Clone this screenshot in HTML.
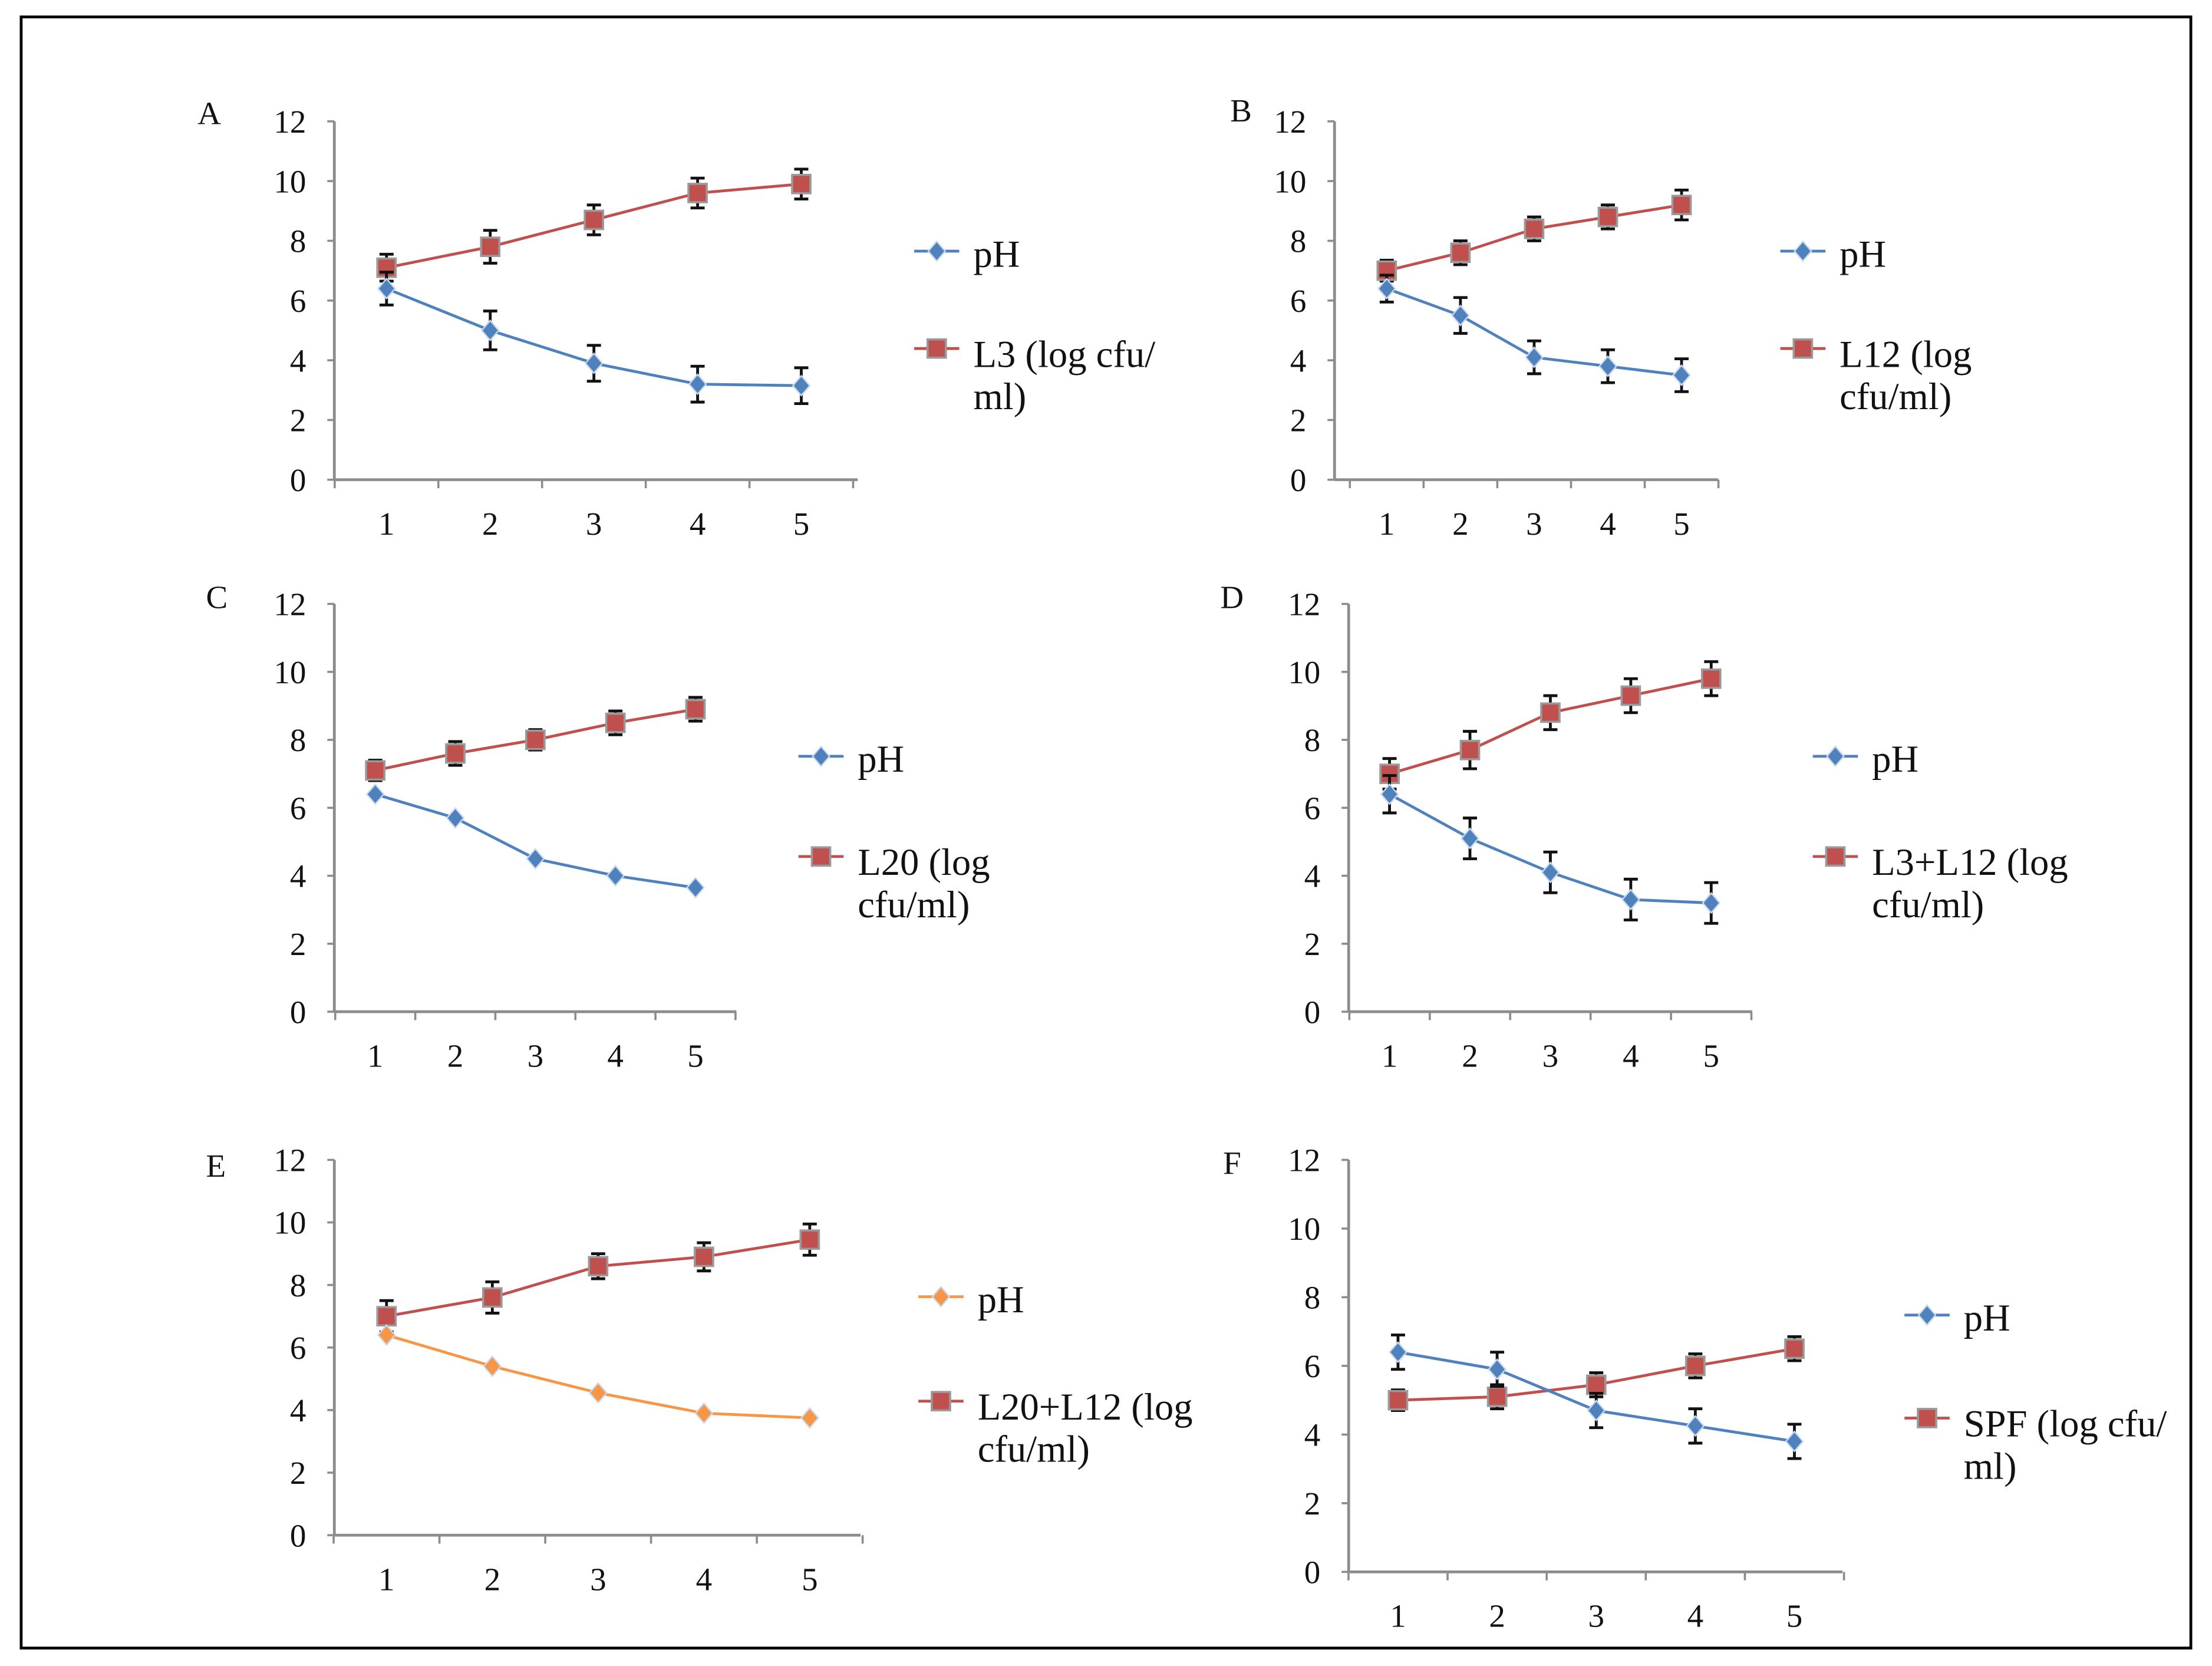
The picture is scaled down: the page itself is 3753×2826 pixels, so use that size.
<!DOCTYPE html>
<html><head><meta charset="utf-8"><style>
html,body{margin:0;padding:0;background:#fff}
svg{display:block}
text{font-family:"Liberation Serif",serif;fill:#111}
</style></head><body>
<svg id="fig" width="3753" height="2826" viewBox="0 0 1568 1180.7" xmlns="http://www.w3.org/2000/svg">
<rect x="15" y="12" width="1538" height="1156" fill="#fff" stroke="#000" stroke-width="2"/>
</svg>
<script>
const categories = [1, 2, 3, 4, 5];
const yTicks = [0, 2, 4, 6, 8, 10, 12];
const aRed = [7.1, 7.8, 8.7, 9.6, 9.9];
const aBlue = [6.4, 5.0, 3.9, 3.2, 3.15];
const aRedErr = [0.45, 0.55, 0.5, 0.5, 0.5];
const aBlueErr = [0.55, 0.65, 0.6, 0.6, 0.6];
const bRed = [7.0, 7.6, 8.4, 8.8, 9.2];
const bBlue = [6.4, 5.5, 4.1, 3.8, 3.5];
const bRedErr = [0.35, 0.4, 0.4, 0.4, 0.5];
const bBlueErr = [0.45, 0.6, 0.55, 0.55, 0.55];
const cRed = [7.1, 7.6, 8.0, 8.5, 8.9];
const cBlue = [6.4, 5.7, 4.5, 4.0, 3.65];
const cRedErr = [0.3, 0.35, 0.3, 0.35, 0.35];
const cBlueErr = [0, 0, 0, 0, 0];
const dRed = [7.0, 7.7, 8.8, 9.3, 9.8];
const dBlue = [6.4, 5.1, 4.1, 3.3, 3.2];
const dRedErr = [0.45, 0.55, 0.5, 0.5, 0.5];
const dBlueErr = [0.55, 0.6, 0.6, 0.6, 0.6];
const eRed = [7.0, 7.6, 8.6, 8.9, 9.45];
const eOrange = [6.4, 5.4, 4.55, 3.9, 3.75];
const eRedErr = [0.5, 0.5, 0.4, 0.45, 0.5];
const eOrangeErr = [0, 0, 0, 0, 0];
const fRed = [5.0, 5.1, 5.45, 6.0, 6.5];
const fBlue = [6.4, 5.9, 4.7, 4.25, 3.8];
const fRedErr = [0.3, 0.35, 0.35, 0.35, 0.35];
const fBlueErr = [0.5, 0.5, 0.5, 0.5, 0.5];

const NS = "http://www.w3.org/2000/svg";
const svg = document.getElementById('fig');
function mk(tag, attrs, parent, txt) {
  const e = document.createElementNS(NS, tag);
  for (const k in attrs) e.setAttribute(k, attrs[k]);
  if (txt !== undefined) e.textContent = txt;
  (parent || svg).appendChild(e);
  return e;
}
const panels = [
  {id:'a', label:'A', lx:140, ly:88, ax:237, yTop:86, y0:340, xEnd:608, c1:274, c5:568,
   s1:aBlue, e1:aBlueErr, s2:aRed, e2:aRedErr, col1:'#4f81bd',
   lgX:648, lg1:178, lg2:247, t1:['pH'], t2:['L3  (log cfu/','ml)']},
  {id:'b', label:'B', lx:872, ly:86, ax:946, yTop:86, y0:340, xEnd:1218, c1:983, c5:1192,
   s1:bBlue, e1:bBlueErr, s2:bRed, e2:bRedErr, col1:'#4f81bd',
   lgX:1262, lg1:178, lg2:247, t1:['pH'], t2:['L12  (log','cfu/ml)']},
  {id:'c', label:'C', lx:146, ly:431, ax:237, yTop:428, y0:717, xEnd:522, c1:266, c5:493,
   s1:cBlue, e1:cBlueErr, s2:cRed, e2:cRedErr, col1:'#4f81bd',
   lgX:566, lg1:536, lg2:607, t1:['pH'], t2:['L20  (log','cfu/ml)']},
  {id:'d', label:'D', lx:865, ly:431, ax:956, yTop:428, y0:717, xEnd:1242, c1:985, c5:1213,
   s1:dBlue, e1:dBlueErr, s2:dRed, e2:dRedErr, col1:'#4f81bd',
   lgX:1285, lg1:536, lg2:607, t1:['pH'], t2:['L3+L12 (log','cfu/ml)']},
  {id:'e', label:'E', lx:146, ly:834, ax:237, yTop:822, y0:1088, xEnd:610, c1:274, c5:574,
   s1:eOrange, e1:eOrangeErr, s2:eRed, e2:eRedErr, col1:'#f79646',
   lgX:651, lg1:919, lg2:993, t1:['pH'], t2:['L20+L12 (log','cfu/ml)']},
  {id:'f', label:'F', lx:867, ly:832, ax:956, yTop:822, y0:1114, xEnd:1306, c1:991, c5:1272,
   s1:fBlue, e1:fBlueErr, s2:fRed, e2:fRedErr, col1:'#4f81bd',
   lgX:1350, lg1:932, lg2:1005, t1:['pH'], t2:['SPF  (log cfu/','ml)']}
];
const red = '#c0504d';
function diamond(g, x, y, col) {
  return mk('path', {d:`M${x} ${y-7}L${x+6} ${y}L${x} ${y+7}L${x-6} ${y}Z`, fill:col, stroke:'#c9d9ee', 'stroke-width':1}, g);
}
function square(g, x, y) {
  return mk('rect', {x:x-6.5, y:y-6.5, width:13, height:13, fill:red, stroke:'#9a9a9a', 'stroke-width':1.5}, g);
}
panels.forEach(p => {
  const g = mk('g', {});
  
  
  const yS = v => p.y0 - (v / 12) * (p.y0 - p.yTop);
  const xS = c => p.c1 + (c - 1) * (p.c5 - p.c1) / 4;
  const step = (p.c5 - p.c1) / 4;
  const lab = mk('text', {x:p.lx, y:p.ly, 'font-size':23}, g, p.label);
  
  
  const yax = mk('line', {x1:p.ax, y1:p.yTop, x2:p.ax, y2:p.y0, stroke:'#8c8c8c', 'stroke-width':2}, g);
  
  
  const xax = mk('line', {x1:p.ax, y1:p.y0, x2:p.xEnd, y2:p.y0, stroke:'#8c8c8c', 'stroke-width':2}, g);
  
  
  yTicks.forEach(t => {
    mk('line', {x1:p.ax-5, y1:yS(t), x2:p.ax, y2:yS(t), stroke:'#8c8c8c', 'stroke-width':1.5}, g);
    const tl = mk('text', {x:p.ax-20, y:yS(t)+8, 'font-size':23, 'text-anchor':'end'}, g, String(t));
    
    
  });
  for (let i = 0; i <= categories.length; i++) {
    const x = p.c1 - step / 2 + i * step;
    mk('line', {x1:x, y1:p.y0, x2:x, y2:p.y0+6, stroke:'#8c8c8c', 'stroke-width':1.5}, g);
  }
  categories.forEach(c => {
    const tl = mk('text', {x:xS(c), y:p.y0+39, 'font-size':23, 'text-anchor':'middle'}, g, String(c));
    
    
  });
  [[p.s2, p.e2, red, 'square'], [p.s1, p.e1, p.col1, 'diamond']].forEach(([s, e, col, kind]) => {
    const pts = s.map((v, i) => `${xS(categories[i])},${yS(v)}`).join(' ');
    const ln = mk('polyline', {points:pts, fill:'none', stroke:col, 'stroke-width':2}, g);
    
    
    s.forEach((v, i) => {
      const x = xS(categories[i]);
      if (e[i] > 0) {
        const eb = mk('path', {d:`M${x} ${yS(v+e[i])}V${yS(v-e[i])}M${x-5} ${yS(v+e[i])}H${x+5}M${x-5} ${yS(v-e[i])}H${x+5}`, stroke:'#111', 'stroke-width':2, fill:'none'}, g);
        
        
      }
      const m = kind === 'square' ? square(g, x, yS(v)) : diamond(g, x, yS(v), col);
      
      
    });
  });
  const l1 = mk('g', {}, g);
  
  
  mk('line', {x1:p.lgX, y1:p.lg1, x2:p.lgX+32, y2:p.lg1, stroke:p.col1, 'stroke-width':2}, l1);
  diamond(l1, p.lgX+16, p.lg1, p.col1);
  mk('text', {x:p.lgX+42, y:p.lg1+11, 'font-size':27}, l1, p.t1[0]);
  const l2 = mk('g', {}, g);
  
  
  mk('line', {x1:p.lgX, y1:p.lg2, x2:p.lgX+32, y2:p.lg2, stroke:red, 'stroke-width':2}, l2);
  square(l2, p.lgX+16, p.lg2);
  p.t2.forEach((t, i) => mk('text', {x:p.lgX+42, y:p.lg2+13+i*30, 'font-size':27}, l2, t));
});
</script>
</body></html>
